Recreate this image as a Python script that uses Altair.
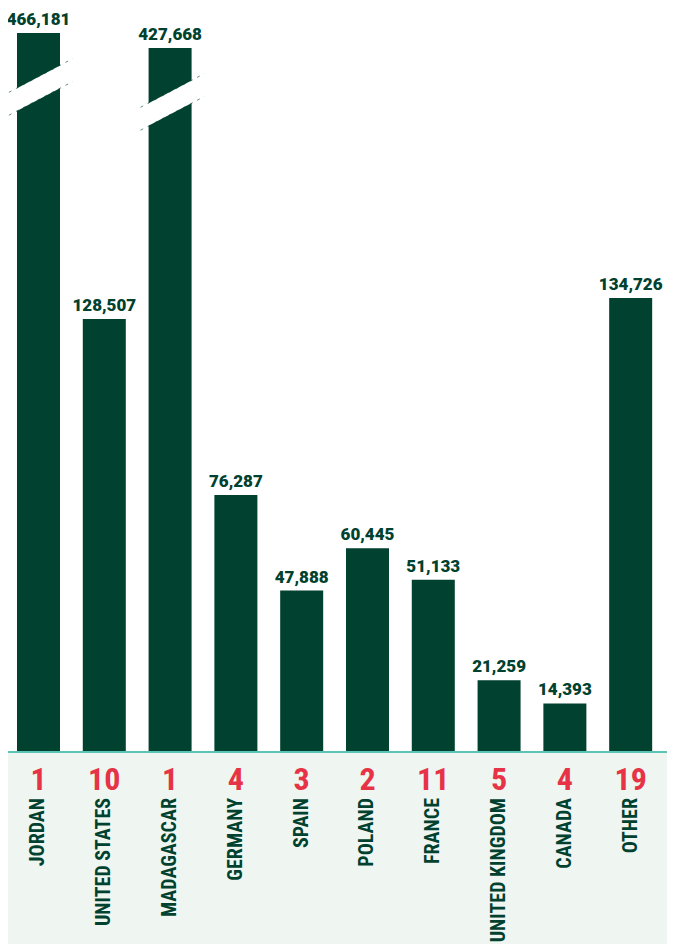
import altair as alt
import pandas as pd

# ---- data ----
countries = ["JORDAN", "UNITED STATES", "MADAGASCAR", "GERMANY", "SPAIN",
             "POLAND", "FRANCE", "UNITED KINGDOM", "CANADA", "OTHER"]
values = [466181, 128507, 427668, 76287, 47888, 60445, 51133, 21259, 14393, 134726]
counts = [1, 10, 1, 4, 3, 2, 11, 5, 4, 19]
# bars drawn with a broken (truncated) axis: height shown on the chart
shown = [213350, 128507, 208900, 76287, 47888, 60445, 51133, 21259, 14393, 134726]
# which bars carry a break symbol
broken = [True, False, True, False, False, False, False, False, False, False]

DARK = "#00412f"
RED = "#e63346"
TEAL = "#5cc4b4"
PALE = "#eff6f1"

W, H = 659, 936
XDOM = [-0.4635, 9.552]
YDOM = [-56973, 220772]

df = pd.DataFrame({
    "idx": list(range(len(countries))),
    "country": countries,
    "value": values,
    "count": counts,
    "shown": shown,
})
df["label"] = df["value"].map(lambda v: f"{v:,}")

# break symbol geometry (in data units, relative to the bar top)
brk_rows = []
for i, b in enumerate(broken):
    if b:
        brk_rows.append({"x0": i - 0.45, "x1": i + 0.52,
                         "y0": shown[i] - 21000, "y1": shown[i] - 11000})
brk = pd.DataFrame(brk_rows)
half = 3400
brk_edges = pd.concat([
    brk.assign(y0=brk.y0 + half, y1=brk.y1 + half),
    brk.assign(y0=brk.y0 - half, y1=brk.y1 - half),
])

xs = alt.Scale(domain=XDOM, nice=False, zero=False, padding=0)
ys = alt.Scale(domain=YDOM, nice=False, zero=False, padding=0)

one = pd.DataFrame({"a": [0]})

bg = alt.Chart(one).mark_rect(color=PALE).encode(
    x=alt.value(0), x2=alt.value(W),
    y=alt.Y("a:Q", scale=ys, axis=None), y2=alt.value(H),
)

bars = alt.Chart(df).mark_bar(width=43, color=DARK).encode(
    x=alt.X("idx:Q", scale=xs, axis=None),
    y=alt.Y("shown:Q", scale=ys, axis=None),
    y2=alt.datum(0),
)

vlabels = alt.Chart(df).mark_text(
    font="Roboto", fontWeight=900, fontSize=17, color=DARK,
    baseline="alphabetic", dy=-8,
).encode(
    x=alt.X("idx:Q", scale=xs, axis=None),
    y=alt.Y("shown:Q", scale=ys, axis=None),
    text="label:N",
)

white_band = alt.Chart(brk).mark_rule(color="white", strokeWidth=20).encode(
    x=alt.X("x0:Q", scale=xs, axis=None), x2="x1:Q",
    y=alt.Y("y0:Q", scale=ys, axis=None), y2="y1:Q",
)
band_edges = alt.Chart(brk_edges).mark_rule(
    color=DARK, strokeWidth=1, strokeDash=[3, 5], opacity=0.6
).encode(
    x=alt.X("x0:Q", scale=xs, axis=None), x2="x1:Q",
    y=alt.Y("y0:Q", scale=ys, axis=None), y2="y1:Q",
)

baseline = alt.Chart(one).mark_rule(color=TEAL, strokeWidth=2).encode(
    y=alt.Y("a:Q", scale=ys, axis=None),
)

cnt = alt.Chart(df).mark_text(
    font="Liberation Sans Narrow, Roboto Condensed, DejaVu Sans Condensed, sans-serif",
    fontWeight="bold", fontSize=32, color=RED, baseline="alphabetic",
).encode(
    x=alt.X("idx:Q", scale=xs, axis=None),
    y=alt.value(782),
    text="count:N",
)

names = alt.Chart(df).mark_text(
    font="Liberation Sans Narrow, Roboto Condensed, DejaVu Sans Condensed, sans-serif",
    fontWeight="bold", fontSize=20, color=DARK, angle=270,
    align="right", baseline="middle",
).encode(
    x=alt.X("idx:Q", scale=xs, axis=None),
    y=alt.value(790),
    text="country:N",
)

chart = alt.layer(
    bg, bars, white_band, band_edges, vlabels, baseline, cnt, names
).properties(
    width=W, height=H, padding=0, autosize=alt.AutoSizeParams(type="none"),
    background="white",
).configure_view(stroke=None)

chart.save("out.html", embed_options={"renderer": "svg", "actions": False})
